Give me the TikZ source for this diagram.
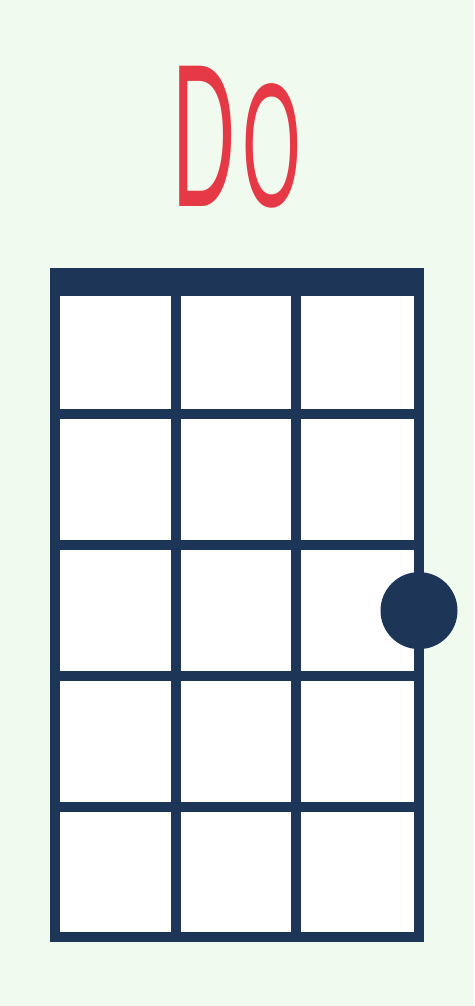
\documentclass[tikz,border=0pt]{standalone}
\usepackage{fontspec}
\setmainfont{Liberation Sans}
\usetikzlibrary{positioning}
\definecolor{honeydew}{HTML}{F1FAEE}
\definecolor{chordred}{HTML}{E63946}
\definecolor{navy}{HTML}{1D3557}

\begin{document}
\begin{tikzpicture}[x=1pt,y=-1pt]
    % Define styles for the chord chart
    \tikzstyle{fretline} = [line width=10pt, draw=navy]
    \tikzstyle{finger} = [circle, fill=navy, minimum size=77pt, inner sep=0pt]
    \tikzstyle{title} = [text=chordred, font=\fontsize{204}{204}\selectfont, xscale=0.43, anchor=base, inner sep=0pt]
    % Background and board
    \fill[honeydew] (0,0) rectangle (474,1006);
    \fill[white] (50,268) rectangle (424,942);
    % Nut
    \fill[navy] (50,268) rectangle (424,296);
    % Strings
    \foreach \x in {55,176.3,295.7,419}
        \draw[fretline] (\x,268) -- (\x,942);
    % Frets
    \foreach \y in {414.3,545.2,676.1,807,937}
        \draw[fretline] (50,\y) -- (424,\y);
    % Finger on the 3rd fret
    \node (dot) [finger] at (419,610.6) {};
    % Chord name
    \node (chord) [title] at (237,206) {D\hspace{16pt}{\fontsize{176}{176}\selectfont O}};
\end{tikzpicture}
\end{document}
